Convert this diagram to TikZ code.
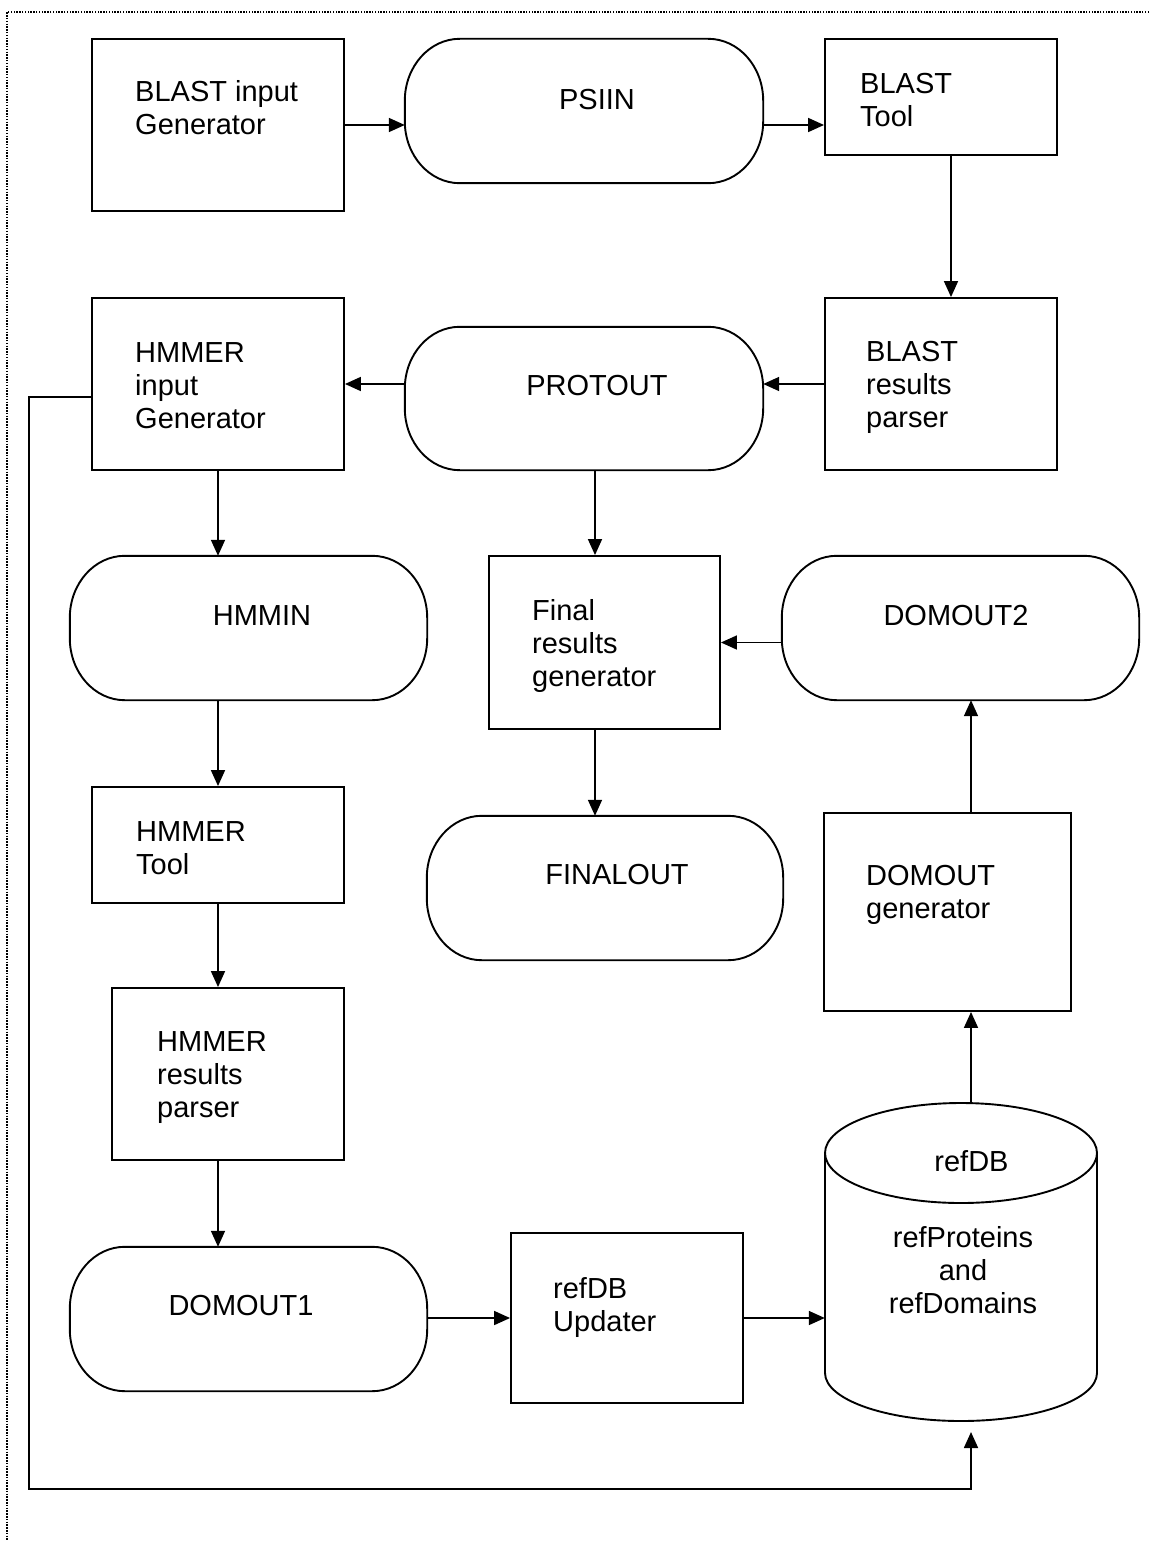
\documentclass[tikz,border=0pt]{standalone}
\usepackage{fontspec}
\setmainfont{Liberation Sans}
\usetikzlibrary{arrows.meta,calc}
% left-aligned and centred multi-line text whose baseline is the first line
\newcommand{\stackL}[1]{\vtop{\halign{##\hfil\cr#1\crcr}}}
\newcommand{\stackC}[1]{\vtop{\halign{\hfil##\hfil\cr#1\crcr}}}
% an invisible frame node spanning (x1,y1)-(x2,y2)
\newcommand{\frameat}[6]{\node[#1, minimum width={(#4-#2)*1pt}, minimum height={(#5-#3)*1pt}] (#6) at ({(#2+#4)/2},{(#3+#5)/2}) {};}
% terminal outline with elliptic corners (rx 55, ry 62) around a node
\newcommand{\terminal}[1]{%
  \draw[shapeline] ($(#1.north west)+(55,0)$) -- ($(#1.north east)+(-55,0)$)
    .. controls ($(#1.north east)+(-24.6,0)$) and ($(#1.north east)+(0,27.8)$) .. ($(#1.north east)+(0,62)$)
    -- ($(#1.south east)+(0,-62)$)
    .. controls ($(#1.south east)+(0,-27.8)$) and ($(#1.south east)+(-24.6,0)$) .. ($(#1.south east)+(-55,0)$)
    -- ($(#1.south west)+(55,0)$)
    .. controls ($(#1.south west)+(24.6,0)$) and ($(#1.south west)+(0,-27.8)$) .. ($(#1.south west)+(0,-62)$)
    -- ($(#1.north west)+(0,62)$)
    .. controls ($(#1.north west)+(0,27.8)$) and ($(#1.north west)+(24.6,0)$) .. cycle;}
\begin{document}
\begin{tikzpicture}[x=1pt,y=-1pt,
  shapeline/.style={line width=1.9pt},
  procbox/.style={rectangle, draw, line width=1.9pt, inner sep=0pt},
  plain/.style={rectangle, draw=none, inner sep=0pt},
  arr/.style={line width=1.7pt, -{Triangle[length=16pt,width=14pt]}},
  lbl/.style={inner sep=0pt, anchor=base west, font=\fontsize{29}{33}\selectfont},
  lblc/.style={inner sep=0pt, anchor=base, font=\fontsize{29}{33}\selectfont},
  pageframe/.style={line width=1.7pt, dash pattern=on 1.5pt off 1.3pt}]

\useasboundingbox (0,0) rectangle (1149,1541);
\draw[pageframe] (1149,11.7) -- (7.3,11.7) -- (7.3,1541);

% process boxes
\frameat{procbox}{92}{39}{344}{211}{blastgen}
\frameat{procbox}{825}{39}{1057}{155}{blasttool}
\frameat{procbox}{825}{298}{1057}{470}{blastparse}
\frameat{procbox}{92}{298}{344}{470}{hmmgen}
\frameat{procbox}{489}{556}{720}{729}{final}
\frameat{procbox}{92}{787}{344}{903}{hmmtool}
\frameat{procbox}{824}{813}{1071}{1011}{domgen}
\frameat{procbox}{112}{988}{344}{1160}{hmmparse}
\frameat{procbox}{511}{1233}{743}{1403}{updater}

% data stores
\frameat{plain}{405}{39}{763}{183}{psiin}
\frameat{plain}{405}{327}{763}{470}{protout}
\frameat{plain}{70}{556}{427}{700}{hmmin}
\frameat{plain}{782}{556}{1139}{700}{domouttwo}
\frameat{plain}{427}{816}{783}{960}{finalout}
\frameat{plain}{70}{1247}{427}{1391}{domoutone}
\terminal{psiin}
\terminal{protout}
\terminal{hmmin}
\terminal{domouttwo}
\terminal{finalout}
\terminal{domoutone}

% reference database cylinder
\frameat{plain}{825}{1103}{1097}{1421}{refdb}
\draw[shapeline] (961,1153) ellipse [x radius=136, y radius=50];
\draw[shapeline] (825,1153) -- (825,1373)
  .. controls (825,1399.5) and (885.9,1421) .. (961,1421)
  .. controls (1036.1,1421) and (1097,1399.5) .. (1097,1373) -- (1097,1153);

% labels
\node[lbl] (l-blastgen) at (135,102) {\stackL{BLAST input\cr Generator}};
\node[lblc] (l-psiin) at (597,110) {PSIIN};
\node[lbl] (l-blasttool) at (860,94) {\stackL{BLAST\cr Tool}};
\node[lbl] (l-blastparse) at (866,361) {\stackL{BLAST\cr results\cr parser}};
\node[lblc] (l-protout) at (597,395) {PROTOUT};
\node[lbl] (l-hmmgen) at (135,362) {\stackL{HMMER\cr input\cr Generator}};
\node[lblc] (l-hmmin) at (262,625) {HMMIN};
\node[lbl] (l-final) at (532,620) {\stackL{Final\cr results\cr generator}};
\node[lblc] (l-domouttwo) at (956,625) {DOMOUT2};
\node[lbl] (l-hmmtool) at (136,841) {\stackL{HMMER\cr Tool}};
\node[lblc] (l-finalout) at (617,884) {FINALOUT};
\node[lbl] (l-domgen) at (866,885) {\stackL{DOMOUT\cr generator}};
\node[lbl] (l-hmmparse) at (157,1051) {\stackL{HMMER\cr results\cr parser}};
\node[lblc] (l-domoutone) at (241,1315) {DOMOUT1};
\node[lbl] (l-updater) at (553,1298) {\stackL{refDB\cr Updater}};
\node[lblc] (l-refdb) at (971.5,1171) {refDB};
\node[lblc] (l-refcontent) at (963,1247) {\stackC{refProteins\cr and\cr refDomains}};

% connectors
\draw[arr] (blastgen.east) -- (blastgen.east -| psiin.west);
\draw[arr] (psiin.east |- blastgen.east) -- (blasttool.west |- blastgen.east);
\draw[arr] ([xshift=10pt]blasttool.south) -- ([xshift=10pt]blastparse.north);
\draw[arr] (blastparse.west) -- (blastparse.west -| protout.east);
\draw[arr] (protout.west |- blastparse.west) -- (hmmgen.east |- blastparse.west);
\draw[arr] (hmmgen.south) -- (hmmgen.south |- hmmin.north);
\draw[arr] (hmmgen.south |- hmmin.south) -- (hmmtool.north);
\draw[arr] (hmmtool.south) -- (hmmtool.south |- hmmparse.north);
\draw[arr] (hmmtool.south |- hmmparse.south) -- (hmmtool.south |- domoutone.north);
\draw[arr] (domoutone.east |- updater.west) -- (updater.west);
\draw[arr] (updater.east) -- (updater.east -| refdb.west);
\draw[arr] ([xshift=10pt]refdb.north) -- ([xshift=10pt]refdb.north |- domgen.south);
\draw[arr] ([xshift=10pt]refdb.north |- domgen.north) -- ([xshift=10pt]refdb.north |- domouttwo.south);
\draw[arr] (domouttwo.west |- final.east) -- (final.east);
\draw[arr] ([xshift=-9.5pt]final.north |- protout.south) -- ([xshift=-9.5pt]final.north);
\draw[arr] ([xshift=-9.5pt]final.south) -- ([xshift=-9.5pt]final.south |- finalout.north);
\coordinate (fbend) at (971,1432);
\draw[arr] ([yshift=-13pt]hmmgen.west) -| (29,1489) -| (fbend);
\end{tikzpicture}
\end{document}
